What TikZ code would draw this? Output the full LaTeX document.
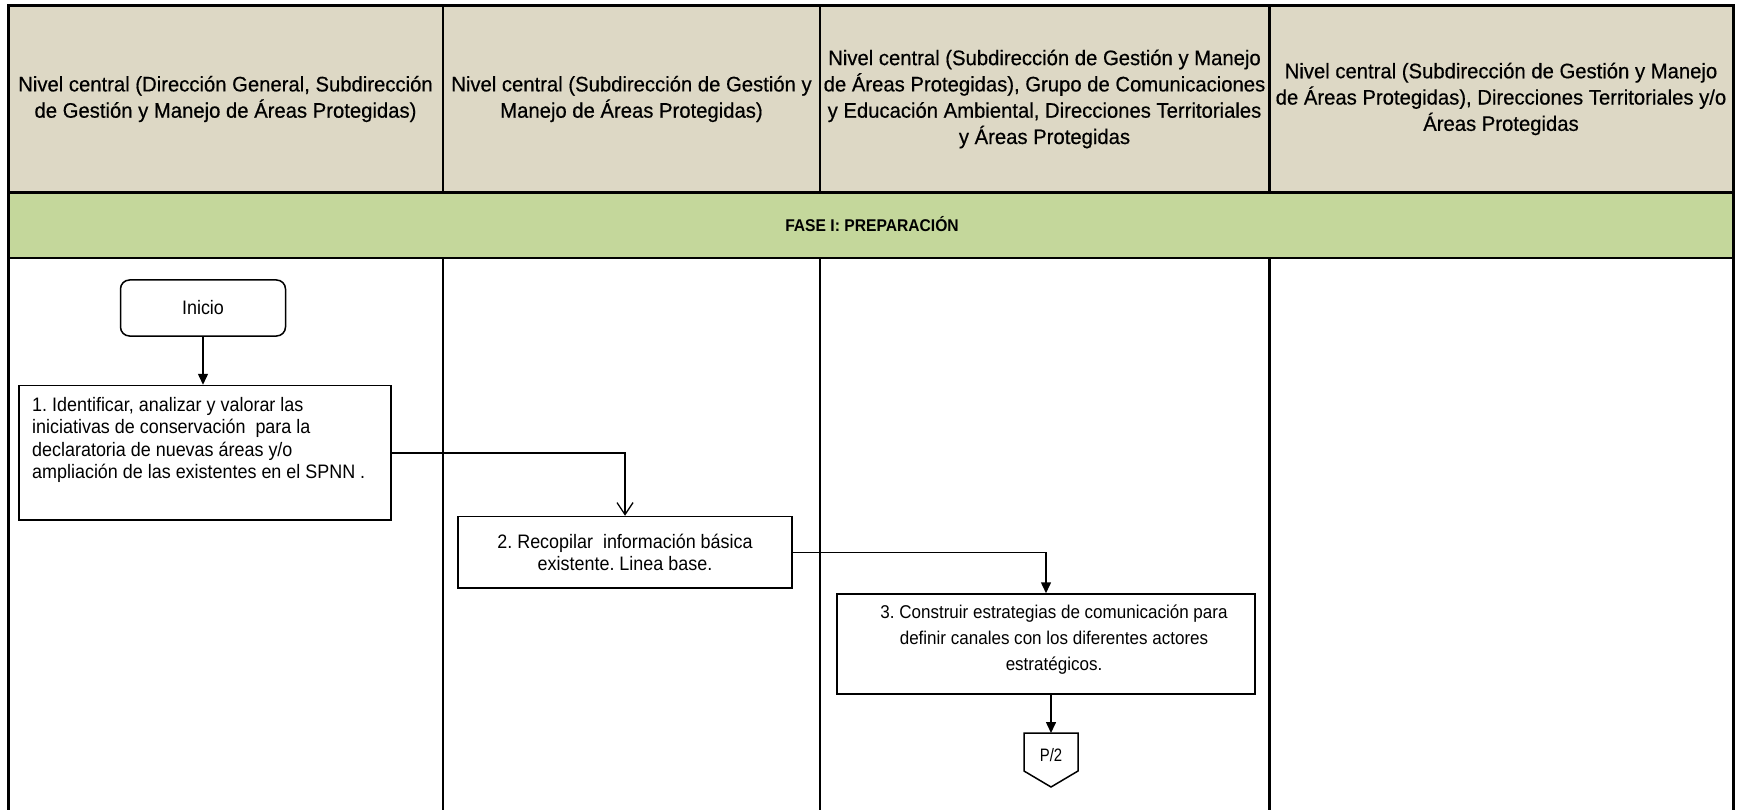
\documentclass[tikz,border=0pt]{standalone}
\usepackage{fontspec}
\setmainfont[FakeStretch=0.92]{Liberation Sans}
\newfontfamily\hdrfont[FakeStretch=0.965, FakeBold=0.5]{Liberation Sans}
\usetikzlibrary{arrows.meta}
\definecolor{hdr}{HTML}{DDD8C5}
\definecolor{fase}{HTML}{C4D79B}
\tikzset{
  hdrtext/.style={align=center, font=\hdrfont\fontsize{21}{26.3}\selectfont, inner sep=0pt},
  stepbox/.style={draw, line width=1.5pt, fill=white, inner sep=0pt},
  txt/.style={font=\fontsize{19.5}{22.5}\selectfont, inner sep=0pt},
  txtb/.style={font=\fontsize{18.5}{26}\selectfont, inner sep=0pt},
  flow/.style={line width=1.5pt, -{Triangle[length=11pt,width=10pt]}},
  flowopen/.style={line width=1.5pt, -{Straight Barb[length=12pt,width=16pt,line width=1.3pt]}},
  thin/.style={line width=1.5pt},
  thick3/.style={line width=3pt}
}
\begin{document}
\frenchspacing
\begin{tikzpicture}[x=1pt,y=-1pt]
\useasboundingbox (0,0) rectangle (1742,810);
% backgrounds
\fill[hdr] (8,5.5) rectangle (1733,193);
\fill[fase] (8,193) rectangle (1733,258);
% grid lines
\draw[thin] (443,5.5) -- (443,193);
\draw[thin] (820,5.5) -- (820,193);
\draw[thick3] (1269,5.5) -- (1269,193);
\draw[thin] (443,258) -- (443,810);
\draw[thin] (820,258) -- (820,810);
\draw[thick3] (1269,258) -- (1269,810);
\draw[line width=2pt] (8,258) -- (1733,258);
\draw[thick3] (8,193) -- (1733,193);
\draw[thick3] (8,810) -- (8,5.5) -- (1733,5.5) -- (1733,810);
% header texts
\node[hdrtext] (h1) at (225.5,99) {Nivel central (Dirección General, Subdirección\\de Gestión y Manejo de Áreas Protegidas)};
\node[hdrtext] (h2) at (631.5,99) {Nivel central (Subdirección de Gestión y\\Manejo de Áreas Protegidas)};
\node[hdrtext] (h3) at (1044.5,99) {Nivel central (Subdirección de Gestión y Manejo\\de Áreas Protegidas), Grupo de Comunicaciones\\y Educación Ambiental, Direcciones Territoriales\\y Áreas Protegidas};
\node[hdrtext] (h4) at (1501,99) {Nivel central (Subdirección de Gestión y Manejo\\de Áreas Protegidas), Direcciones Territoriales y/o\\Áreas Protegidas};
\node[font=\fontsize{17}{20}\selectfont\bfseries, inner sep=0pt] (fase1) at (872,224) {FASE I: PREPARACIÓN};
% nodes
\node[stepbox, rounded corners=9pt, minimum width=165pt, minimum height=56pt, txt] (ini) at (203,308) {Inicio};
\node[stepbox, minimum width=372pt, minimum height=134.5pt] (b1) at (205,452.75) {};
\node[txt, anchor=north west, align=left] (b1t) at (32,397) {1. Identificar, analizar y valorar las\\iniciativas de conservación\ \ para la\\declaratoria de nuevas áreas y/o\\ampliación de las existentes en el SPNN .};
\node[stepbox, txt, minimum width=334pt, minimum height=71.5pt, align=center] (b2) at (625,552.25) {2. Recopilar\ \ información básica\\existente. Linea base.};
\node[stepbox, minimum width=418pt, minimum height=100pt] (b3) at (1046,644) {};
\node[txtb, align=center] (b3t) at (1054,639.5) {3. Construir estrategias de comunicación para\\definir canales con los diferentes actores\\estratégicos.};
% off-page connector
\draw[line width=1.5pt, fill=white] (1024,733) -- (1078,733) -- (1078,771) -- (1051,787) -- (1024,771) -- cycle;
\coordinate (p2top) at (1051,733);
\node[font=\fontsize{18}{22}\selectfont, inner sep=0pt, xscale=0.9] (p2) at (1051,755) {P/2};
% connectors
\draw[flow] (ini.south) -- (ini.south |- b1.north);
\draw[flowopen] (b1.east) -| (b2.north);
\draw[flow] (b2.east) -| (b3.north);
\draw[flow] (b3.south -| p2top) -- (p2top);
\end{tikzpicture}
\end{document}
